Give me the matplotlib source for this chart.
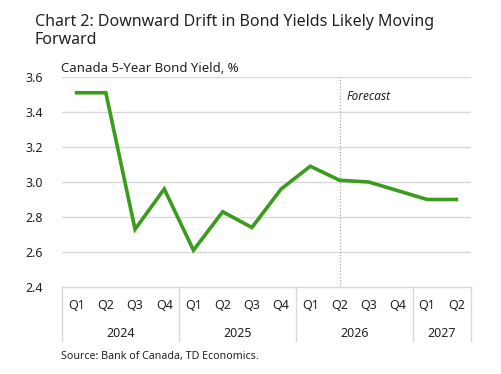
import matplotlib
matplotlib.use("Agg")
import matplotlib.pyplot as plt

plt.rcParams['font.family'] = ['Noto Sans', 'DejaVu Sans']

quarters = ['Q1', 'Q2', 'Q3', 'Q4', 'Q1', 'Q2', 'Q3', 'Q4',
            'Q1', 'Q2', 'Q3', 'Q4', 'Q1', 'Q2']
years = ['2024', '2025', '2026', '2027']
quarters_per_year = [4, 4, 4, 2]
yields = [3.51, 3.51, 2.73, 2.96, 2.61, 2.83, 2.74, 2.96,
          3.09, 3.01, 3.00, 2.95, 2.90, 2.90]
forecast_start = 9  # Q2 2026

green = '#3a9c1c'
grid = '#d9d9d9'
txt = '#222222'

fig = plt.figure(figsize=(5.01, 3.74), dpi=100)
ax = fig.add_axes([62 / 501, 87 / 374, 409 / 501, 210 / 374])

x = [i + 0.5 for i in range(len(yields))]
ax.plot(x, yields, color=green, lw=2.6, solid_joinstyle='miter', zorder=3)

ax.set_xlim(0, len(yields))
ax.set_ylim(2.4, 3.6)
ax.set_yticks([2.4, 2.6, 2.8, 3.0, 3.2, 3.4, 3.6])
ax.set_yticklabels(['%.1f' % v for v in [2.4, 2.6, 2.8, 3.0, 3.2, 3.4, 3.6]])
for v in [2.6, 2.8, 3.0, 3.2, 3.4, 3.6]:
    ax.axhline(v, color=grid, lw=1, zorder=1)
for s in ['top', 'right', 'left']:
    ax.spines[s].set_visible(False)
ax.spines['bottom'].set_color(grid)
ax.spines['bottom'].set_linewidth(1)
ax.tick_params(axis='y', length=0, labelsize=9, colors=txt, pad=14)
ax.tick_params(axis='x', length=0, labelbottom=False)

# forecast marker
ax.axvline(forecast_start + 0.5, color='#aaaaaa', lw=0.9, ls=(0, (1, 1.5)), zorder=2)
ax.text(forecast_start + 0.75, 3.49, 'Forecast', fontsize=8.5, style='italic',
        color=txt, va='center', ha='left')

# two-level category axis
tr = ax.get_xaxis_transform()
for i, q in enumerate(quarters):
    ax.text(i + 0.5, -0.09, q, transform=tr, ha='center', va='center',
            fontsize=9, color=txt)
pos = 0
edges = [0]
for yr, n in zip(years, quarters_per_year):
    ax.text(pos + n / 2, -0.22, yr, transform=tr, ha='center', va='center',
            fontsize=9, color=txt)
    pos += n
    edges.append(pos)
for e in edges:
    ax.plot([e, e], [0, -0.255], transform=tr, color=grid, lw=1, clip_on=False)

fig.text(35 / 501, 1 - 14 / 374,
         'Chart 2: Downward Drift in Bond Yields Likely Moving\nForward',
         fontsize=11.5, color=txt, va='top', ha='left', linespacing=1.15)
fig.text(61 / 501, 1 - 68 / 374, 'Canada 5-Year Bond Yield, %', fontsize=9.5,
         color=txt, va='center', ha='left')
fig.text(61 / 501, 1 - 357 / 374, 'Source: Bank of Canada, TD Economics.',
         fontsize=7.7, color=txt, va='center', ha='left')

fig.savefig('out.png', dpi=100)
